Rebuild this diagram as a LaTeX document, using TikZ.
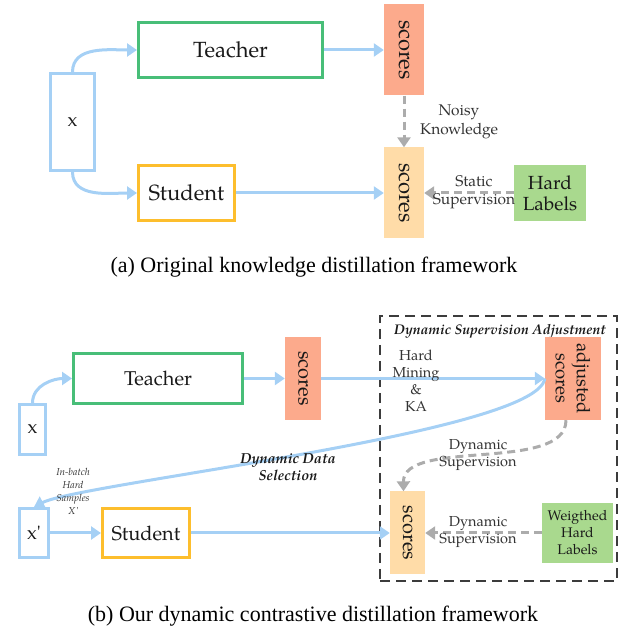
\documentclass[tikz,border=0pt]{standalone}
\usepackage{fontspec}
\usepackage{tikz}
\usetikzlibrary{arrows.meta}
\setmainfont{TeX Gyre Pagella}
\newfontfamily\capfont{Liberation Serif}
\definecolor{kdblue}{RGB}{165,208,245}
\definecolor{kdgreen}{RGB}{72,190,120}
\definecolor{kdorange}{RGB}{253,190,45}
\definecolor{kdsalmon}{RGB}{252,170,140}
\definecolor{kdpeach}{RGB}{255,220,168}
\definecolor{kdlabel}{RGB}{169,217,142}
\definecolor{kdgray}{RGB}{172,172,172}
\definecolor{kddark}{RGB}{60,60,60}

\begin{document}
\begin{tikzpicture}[x=1pt,y=1pt,
  netbox/.style={draw, line width=3pt, inner sep=0pt, text=black!90},
  inputbox/.style={netbox, draw=kdblue, font=\fontsize{19}{22}\selectfont},
  scorebox/.style={inner sep=0pt, rotate=-90, align=center, text=black!90},
  labelbox/.style={inner sep=0pt, align=center, text=black!90},
  lbl/.style={align=center, text=black!80, inner sep=0pt},
  flow/.style={draw=kdblue, line width=3pt, -{Triangle[length=10pt,width=13pt]}},
  soft/.style={draw=kdgray, line width=3pt, dash pattern=on 8pt off 5pt, -{Triangle[length=10pt,width=13pt]}},
  frame/.style={draw=kddark, line width=1.5pt, dash pattern=on 10pt off 6pt, inner sep=0pt}]
\useasboundingbox (0,0) rectangle (620,633);

% (a) original knowledge distillation
\node[inputbox, minimum width=44pt, minimum height=97pt] (xA) at (72.5,511) {x};
\node[netbox, draw=kdgreen, minimum width=184pt, minimum height=55pt, font=\fontsize{22}{24}\selectfont] (teacherA) at (230.5,583) {Teacher};
\node[netbox, draw=kdorange, minimum width=96pt, minimum height=55pt, font=\fontsize{22}{24}\selectfont] (studentA) at (186.5,440) {Student};
\node[scorebox, fill=kdsalmon, minimum width=91pt, minimum height=40pt, font=\fontsize{22}{24}\selectfont] (scoresTA) at (404,583) {scores};
\node[scorebox, fill=kdpeach, minimum width=91pt, minimum height=40pt, font=\fontsize{22}{24}\selectfont] (scoresBA) at (404,440) {scores};
\node[labelbox, fill=kdlabel, minimum width=72pt, minimum height=56pt, font=\fontsize{19}{21}\selectfont] (hardA) at (550,440) {Hard\\Labels};

\draw[flow] (xA.north) to[out=90,in=180] (teacherA.west);
\draw[flow] (xA.south) to[out=-90,in=180] (studentA.west);
\draw[flow] (teacherA) -- (scoresTA);
\draw[flow] (studentA) -- (scoresBA);
\draw[soft] (scoresTA) -- (scoresBA);
\draw[soft] (hardA) -- (scoresBA);

\node[lbl, font=\fontsize{15.5}{19}\selectfont] (noisyA) at (459,511) {Noisy\\Knowledge};
\node[lbl, font=\fontsize{15.5}{18}\selectfont] (staticA) at (474,441) {Static\\Supervision};

\node[font=\capfont\fontsize{22}{24}\selectfont] (capA) at (314,366) {(a) Original knowledge distillation framework};

% (b) dynamic contrastive distillation
\node[frame, minimum width=237pt, minimum height=265pt] (dsa) at (498.5,184.5) {};
\node[font=\fontsize{14}{16}\selectfont\bfseries\itshape, text=black!90] (dsaTitle) at (500,302) {Dynamic Supervision Adjustment};

\node[inputbox, minimum width=26pt, minimum height=50pt] (xB) at (32.5,203.5) {x};
\node[inputbox, minimum width=29pt, minimum height=49pt] (xpB) at (34,100) {x\textquotesingle};
\node[netbox, draw=kdgreen, minimum width=169pt, minimum height=50pt, font=\fontsize{20}{22}\selectfont] (teacherB) at (158,254.5) {Teacher};
\node[netbox, draw=kdorange, minimum width=87pt, minimum height=49pt, font=\fontsize{20}{22}\selectfont] (studentB) at (146,100) {Student};
\node[scorebox, fill=kdsalmon, minimum width=83pt, minimum height=36pt, font=\fontsize{20}{22}\selectfont] (scoresTB) at (303,254.5) {scores};
\node[scorebox, fill=kdsalmon, minimum width=83pt, minimum height=56pt, font=\fontsize{18.5}{21}\selectfont] (adjB) at (573,254.5) {adjusted\\scores};
\node[scorebox, fill=kdpeach, minimum width=83pt, minimum height=35pt, font=\fontsize{20}{22}\selectfont] (scoresBB) at (407.5,100) {scores};
\node[labelbox, fill=kdlabel, minimum width=71pt, minimum height=60pt, font=\fontsize{14}{17}\selectfont] (weightB) at (577.5,100) {Weigthed\\Hard\\Labels};

\draw[flow] (xB.north) to[out=90,in=180] (teacherB.west);
\draw[flow] (teacherB) -- (scoresTB);
\draw[flow] (scoresTB) -- (adjB);
\draw[flow] (adjB.south) .. controls (538,200) and (80,150) .. (xpB.north);
\draw[flow] (xpB) -- (studentB);
\draw[flow] (studentB) -- (scoresBB);
\draw[soft] ([xshift=-7pt]adjB.east) .. controls (566,160) and (403,195) .. ([xshift=-4pt]scoresBB.west);
\draw[soft] (weightB) -- (scoresBB);

% labels over the connectors
\node[lbl, font=\fontsize{14.5}{17}\selectfont] (hmB) at (416,252) {Hard\\Mining\\\&\\KA};
\node[lbl, font=\fontsize{14.5}{17}\selectfont\bfseries\itshape, text=black!90] (ddsB) at (288,166) {Dynamic Data\\Selection};
\node[lbl, font=\fontsize{10}{13}\selectfont\itshape] (batchB) at (73,142) {In-batch\\Hard\\Samples\\X\textquotesingle};
\node[lbl, font=\fontsize{14.5}{17}\selectfont] (dynOneB) at (478,178) {Dynamic\\Supervision};
\node[lbl, font=\fontsize{14.5}{17}\selectfont] (dynTwoB) at (478,101) {Dynamic\\Supervision};

\node[font=\capfont\fontsize{22}{24}\selectfont] (capB) at (313,17) {(b) Our dynamic contrastive distillation framework};
\end{tikzpicture}
\end{document}
